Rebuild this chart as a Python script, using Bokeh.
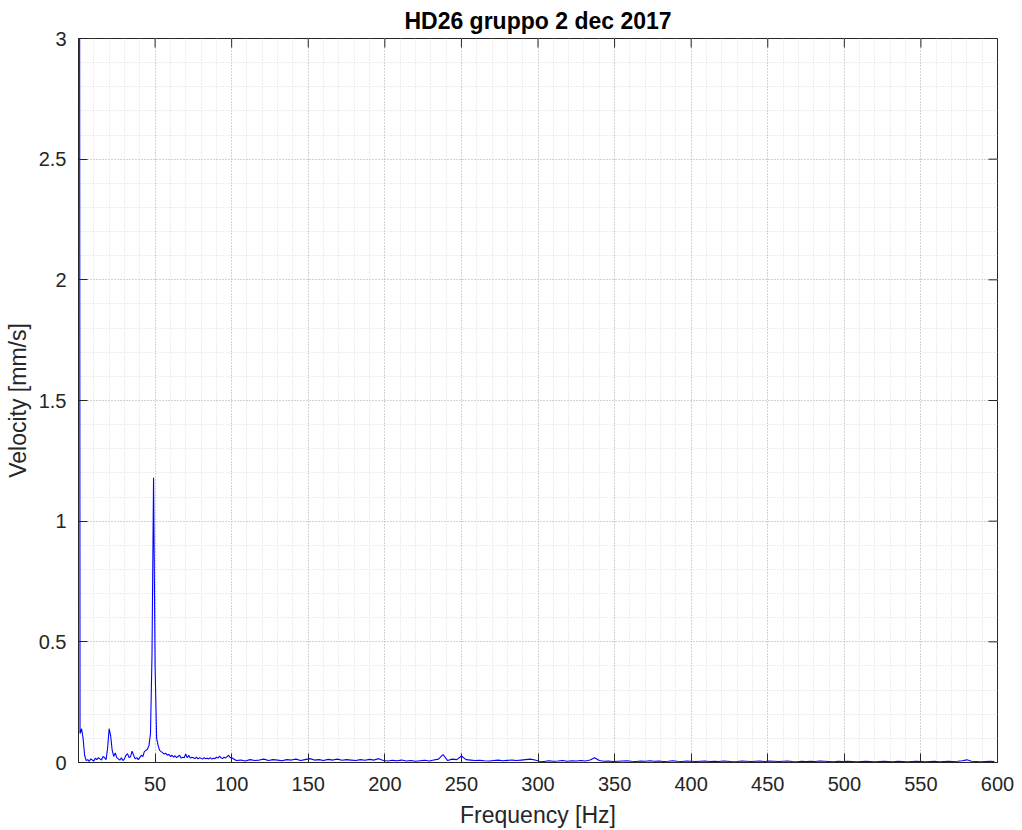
import numpy as np
from bokeh.plotting import figure
from bokeh.models import Range1d, FixedTicker
from bokeh.embed import file_html
from bokeh.resources import INLINE

# Spectrum 0..99 Hz, 1 Hz step (value at 0 Hz is off-scale DC)
vel_lo = [
    12.0, 0.12, 0.14, 0.10, 0.03, 0.008, 0.012, 0.005, 0.015, 0.01,
    0.006, 0.018, 0.012, 0.02, 0.015, 0.01, 0.025, 0.02, 0.012, 0.06,
    0.14, 0.11, 0.05, 0.025, 0.04, 0.02, 0.015, 0.01, 0.02, 0.008,
    0.015, 0.03, 0.037, 0.02, 0.025, 0.047, 0.03, 0.015, 0.02, 0.012,
    0.02, 0.03, 0.025, 0.045, 0.05, 0.055, 0.07, 0.12, 0.45, 1.18,
    0.40, 0.10, 0.07, 0.05, 0.045, 0.04, 0.035, 0.038, 0.03, 0.034,
    0.025, 0.03, 0.022, 0.028, 0.02, 0.025, 0.03, 0.018, 0.022, 0.02,
    0.035, 0.02, 0.03, 0.018, 0.022, 0.02, 0.016, 0.022, 0.015, 0.02,
    0.018, 0.014, 0.02, 0.016, 0.018, 0.015, 0.02, 0.014, 0.018, 0.016,
    0.022, 0.018, 0.026, 0.02, 0.016, 0.022, 0.018, 0.024, 0.03, 0.02,
]
# Spectrum from 100 Hz onward, 3 Hz step
vel_hi = [
    0.02, 0.008, 0.01, 0.006, 0.012, 0.008, 0.01, 0.014, 0.008, 0.012,
    0.01, 0.007, 0.012, 0.01, 0.014, 0.008, 0.012, 0.016, 0.01, 0.012,
    0.008, 0.013, 0.01, 0.014, 0.009, 0.012, 0.01, 0.008, 0.012, 0.009,
    0.013, 0.01, 0.016, 0.008, 0.006, 0.009, 0.007, 0.01, 0.006, 0.008,
    0.005, 0.007, 0.009, 0.006, 0.01, 0.014, 0.033, 0.008, 0.014, 0.012,
    0.027, 0.012, 0.01, 0.008, 0.009, 0.007, 0.006, 0.008, 0.01, 0.007,
    0.009, 0.01, 0.008, 0.01, 0.012, 0.014, 0.01, 0.005, 0.004, 0.007,
    0.005, 0.006, 0.008, 0.005, 0.007, 0.006, 0.008, 0.006, 0.01, 0.02,
    0.008, 0.005, 0.006, 0.004, 0.005, 0.006, 0.007, 0.005, 0.004, 0.006,
    0.005, 0.007, 0.005, 0.006, 0.004, 0.005, 0.007, 0.005, 0.004, 0.006,
    0.005, 0.004, 0.005, 0.006, 0.004, 0.005, 0.004, 0.006, 0.005, 0.003,
    0.004, 0.006, 0.005, 0.004, 0.005, 0.006, 0.004, 0.006, 0.005, 0.004,
    0.005, 0.006, 0.004, 0.003, 0.005, 0.004, 0.005, 0.004, 0.006, 0.005,
    0.004, 0.003, 0.005, 0.004, 0.005, 0.004, 0.003, 0.004, 0.005, 0.004,
    0.003, 0.004, 0.005, 0.004, 0.003, 0.005, 0.004, 0.003, 0.004, 0.005,
    0.004, 0.003, 0.004, 0.005, 0.003, 0.004, 0.005, 0.004, 0.005, 0.007,
    0.011, 0.005, 0.004, 0.003, 0.004, 0.005, 0.004,
]
freq_lo = list(range(len(vel_lo)))
freq_hi = [100 + 3 * i for i in range(len(vel_hi))]
freq = freq_lo + freq_hi
vel = vel_lo + vel_hi

x_major = [50, 100, 150, 200, 250, 300, 350, 400, 450, 500, 550, 600]
x_minor = list(range(0, 601, 10))
y_major = [0, 0.5, 1, 1.5, 2, 2.5, 3]
y_minor = [i / 10 for i in range(31)]
y_tick_labels = ["0", "0.5", "1", "1.5", "2", "2.5", "3"]
x_lim = (0, 600)
y_lim = (0, 3)

title_text = "HD26 gruppo 2 dec 2017"
x_label = "Frequency [Hz]"
y_label = "Velocity [mm/s]"

FONT = "Liberation Sans"
TXT = "#262626"

p = figure(width=1022, height=830, output_backend="svg", toolbar_location=None,
           x_range=Range1d(*x_lim), y_range=Range1d(*y_lim),
           min_border_left=78, min_border_right=25, min_border_top=38,
           min_border_bottom=68, title=title_text)
p.background_fill_color = "white"
p.border_fill_color = "white"
p.outline_line_color = TXT
p.outline_line_width = 1

p.title.align = "center"
p.title.text_font = FONT
p.title.text_font_size = "23px"
p.title.text_font_style = "bold"
p.title.text_color = "black"
p.title.standoff = 10

xt = FixedTicker(ticks=x_major, minor_ticks=x_minor)
yt = FixedTicker(ticks=y_major, minor_ticks=y_minor)
p.xaxis.ticker = xt
p.yaxis.ticker = yt
p.yaxis.major_label_overrides = {v: s for v, s in zip(y_major, y_tick_labels)}

for ax in list(p.xaxis) + list(p.yaxis):
    ax.axis_line_color = TXT
    ax.major_tick_line_color = TXT
    ax.major_tick_in = 9
    ax.major_tick_out = 0
    ax.minor_tick_line_color = None
    ax.major_label_text_font = FONT
    ax.major_label_text_font_size = "20px"
    ax.major_label_text_color = TXT
    ax.axis_label_text_font = FONT
    ax.axis_label_text_font_size = "23px"
    ax.axis_label_text_font_style = "normal"
    ax.axis_label_text_color = TXT
p.xaxis.axis_label = x_label
p.yaxis.axis_label = y_label
p.xaxis.major_label_standoff = 10
p.yaxis.major_label_standoff = 8
p.xaxis.axis_label_standoff = 8
p.yaxis.axis_label_standoff = 5

for g in [p.xgrid, p.ygrid]:
    g.grid_line_color = "#b8b8b8"
    g.grid_line_dash = "1 2"
    g.grid_line_width = 1
    g.minor_grid_line_color = "#dadada"
    g.minor_grid_line_dash = "1 2"
    g.minor_grid_line_width = 1

p.line(freq, vel, line_color="#0000ff", line_width=1.1)

# box ticks on the top and right edges (drawn from the tick lists)
p.ray(x=x_major, y=[y_lim[1]] * len(x_major), length=9, length_units="screen",
      angle=-np.pi / 2, line_color=TXT, line_width=1)
p.ray(x=[x_lim[1]] * len(y_major), y=y_major, length=9, length_units="screen",
      angle=np.pi, line_color=TXT, line_width=1)

open("out.html", "w").write(file_html(p, INLINE))
